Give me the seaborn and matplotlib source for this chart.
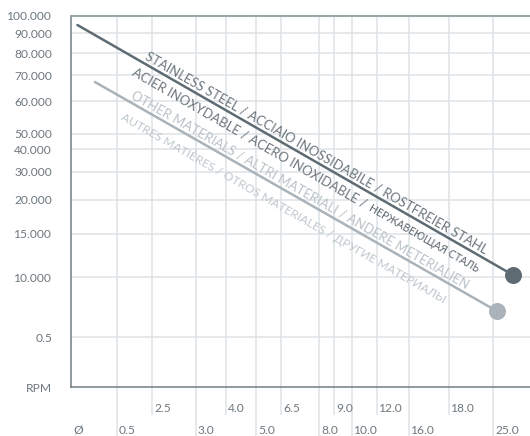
import numpy as np
import pandas as pd
import matplotlib
matplotlib.use("Agg")
import matplotlib.pyplot as plt
import matplotlib.transforms as mtransforms
import seaborn as sns

# --- data ---
x_ticks_top = [2.5, 4.0, 6.5, 9.0, 12.0, 18.0]
x_ticks_bottom = [0.5, 3.0, 5.0, 8.0, 10.0, 16.0, 25.0]
y_ticks = [100000, 90000, 80000, 70000, 60000, 50000, 40000, 30000,
           20000, 15000, 10000, 5000, 0]
y_labels = ['100.000', '90.000', '80.000', '70.000', '60.000', '50.000',
            '40.000', '30.000', '20.000', '15.000', '10.000', '0.5', 'RPM']

steel_d = [0.07, 27.7]
steel_rpm = [94700, 10230]
other_d = [0.26, 25.5]
other_rpm = [67300, 7170]

steel_label_top = 'STAINLESS STEEL / ACCIAIO INOSSIDABILE / ROSTFREIER STAHL'
steel_label_low = 'ACIER INOXYDABLE / ACERO INOXIDABLE /'
steel_label_ru = 'НЕРЖАВЕЮЩАЯ СТАЛЬ'
other_labels = ['OTHER MATERIALS / ALTRI MATERIALI / ANDERE METERIALIEN',
                'AUTRES MATIÈRES / OTROS MATERIALES / ДРУГИЕ МАТЕРИАЛЫ']

# --- layout of the (non uniform) printed scales, pixels from the axes origin ---
X_ANCHOR = [0, 0.5, 2.5, 3, 4, 5, 6.5, 8, 9, 10, 12, 16, 18, 25, 30]
X_PIX = [0, 46, 81, 125, 155, 185, 210, 248, 263, 281, 306, 338, 378, 422, 459]
Y_ANCHOR = [0, 5000, 10000, 15000, 20000, 30000, 40000, 50000, 60000,
            70000, 80000, 90000, 100000]
Y_PIX = [0, 50, 110, 153, 187, 215, 238, 253, 286, 312, 334, 354, 371]

DARK = '#5f6b72'
LIGHT = '#a9b3b9'
GRID = '#dde2e6'
TXT = '#6d777d'

sns.set_theme(style='white')
plt.rcParams['font.family'] = ['Lato', 'DejaVu Sans']

DPI = 72
fig = plt.figure(figsize=(530 / DPI, 436 / DPI), dpi=DPI)
ax = fig.add_axes([71 / 530, 49 / 436, 459 / 530, 371 / 436])

ax.set_xscale('function', functions=(lambda v: np.interp(v, X_ANCHOR, X_PIX),
                                     lambda p: np.interp(p, X_PIX, X_ANCHOR)))
ax.set_yscale('function', functions=(lambda v: np.interp(v, Y_ANCHOR, Y_PIX),
                                     lambda p: np.interp(p, Y_PIX, Y_ANCHOR)))
ax.set_xlim(0, 30)
ax.set_ylim(0, 100000)

steel = pd.DataFrame({'d': steel_d, 'rpm': steel_rpm})
other = pd.DataFrame({'d': other_d, 'rpm': other_rpm})

sns.lineplot(data=other, x='d', y='rpm', color=LIGHT, lw=2.5, ax=ax, zorder=3)
sns.lineplot(data=steel, x='d', y='rpm', color=DARK, lw=2.5, ax=ax, zorder=3)
ax.scatter(other_d[-1:], other_rpm[-1:], s=17 ** 2, color=LIGHT, zorder=4, lw=0)
ax.scatter(steel_d[-1:], steel_rpm[-1:], s=17 ** 2, color=DARK, zorder=4, lw=0)

# grid
for v in y_ticks[1:-1]:
    ax.axhline(v, color=GRID, lw=1.5, zorder=1)
for v in x_ticks_top + x_ticks_bottom:
    ax.axvline(v, color=GRID, lw=1.5, zorder=1)

# ticks
ax.set_xticks(x_ticks_top)
ax.set_xticks(x_ticks_bottom, minor=True)
ax.set_xticklabels([])
ax.tick_params(axis='x', which='major', length=28, width=1.5, color=GRID,
               direction='out', bottom=True)
ax.tick_params(axis='x', which='minor', length=50, width=1.5, color=GRID,
               direction='out', bottom=True)
ax.set_yticks(y_ticks)
ax.set_yticklabels(y_labels)
ax.tick_params(axis='y', length=0, pad=19, labelsize=12, labelcolor=TXT)
ax.set_xlabel('')
ax.set_ylabel('')

for v in x_ticks_top:
    ax.annotate(f'{v:.1f}', xy=(v, 0), xycoords=('data', 'axes fraction'),
                xytext=(2, -16), textcoords='offset points', ha='left',
                va='top', fontsize=12, color=TXT)
for v in x_ticks_bottom:
    ax.annotate(f'{v:.1f}', xy=(v, 0), xycoords=('data', 'axes fraction'),
                xytext=(2, -38), textcoords='offset points', ha='left',
                va='top', fontsize=12, color=TXT)
ax.annotate('Ø', xy=(0, 0), xycoords=('data', 'axes fraction'),
            xytext=(2, -38), textcoords='offset points', ha='left',
            va='top', fontsize=12, color=TXT)

# spines
for s in ['left', 'bottom']:
    ax.spines[s].set_color('#6f7b80')
    ax.spines[s].set_linewidth(1.5)
ax.spines['top'].set_color('#9aa6a9')
ax.spines['top'].set_linewidth(2)
ax.spines['right'].set_visible(False)
for s in ax.spines.values():
    s.set_zorder(2)

renderer = fig.canvas.get_renderer()


def label_line(xs, ys, text, t, off, va, color, size, shift=0):
    p0 = ax.transData.transform((xs[0], ys[0]))
    p1 = ax.transData.transform((xs[1], ys[1]))
    u = (p1 - p0) / np.hypot(*(p1 - p0))
    n = np.array([-u[1], u[0]])
    p = p0 + t * (p1 - p0) + off * n + shift * u
    ang = np.degrees(np.arctan2(u[1], u[0]))
    txt = ax.text(p[0], p[1], text, transform=mtransforms.IdentityTransform(),
                  rotation=ang, rotation_mode='anchor', ha='left', va=va,
                  fontsize=size, color=color, zorder=5)
    flat = ax.text(0, 0, text, fontsize=size,
                   transform=mtransforms.IdentityTransform())
    width = flat.get_window_extent(renderer).width
    flat.remove()
    return width


label_line(steel_d, steel_rpm, steel_label_top, 0.149, 4, 'baseline', '#6a757b', 13)
w = label_line(steel_d, steel_rpm, steel_label_low, 0.142, -16, 'baseline', '#6a757b', 13)
label_line(steel_d, steel_rpm, steel_label_ru, 0.142, -16, 'baseline', '#5a656b', 10.5,
           shift=w + 5)
label_line(other_d, other_rpm, other_labels[0], 0.082, 4, 'baseline', '#b9c2c7', 13)
label_line(other_d, other_rpm, other_labels[1], 0.086, -9, 'top', '#bfc7cb', 12)

fig.savefig('out.png', dpi=DPI)
